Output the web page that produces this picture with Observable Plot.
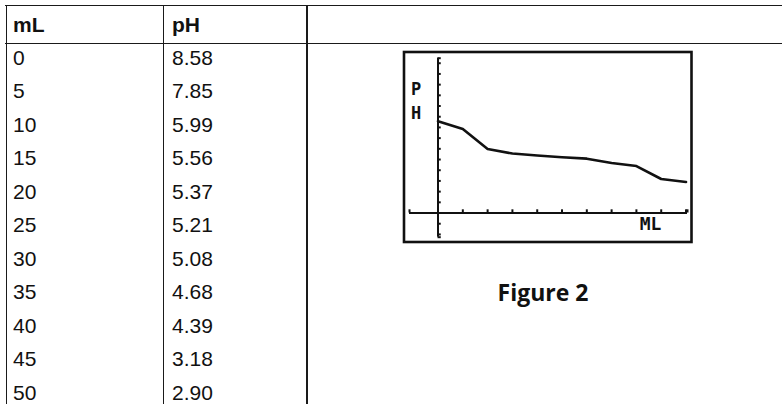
<!DOCTYPE html>
<html><head><meta charset="utf-8">
<script src="https://cdn.jsdelivr.net/npm/d3@7"></script>
<script src="https://cdn.jsdelivr.net/npm/@observablehq/plot@0.6"></script>
<style>
html,body{margin:0;padding:0;background:#fff;}
#page{position:relative;width:782px;height:404px;overflow:hidden;font-family:"Liberation Sans",Arial,sans-serif;color:#111;}
.hl{position:absolute;height:1.6px;background:#1a1a1a;}
.vl{position:absolute;width:1.6px;background:#1a1a1a;}
.cell{position:absolute;font-size:21px;line-height:21px;white-space:nowrap;}
.hd{font-weight:bold;}
#cap{position:absolute;left:543px;top:281px;transform:translateX(-50%);font-family:"Open Sans",sans-serif;font-weight:700;font-size:23px;line-height:23px;white-space:nowrap;}
#chart{position:absolute;left:400px;top:47px;}
</style></head><body><div id="page"></div>
<script>
// ---- data ----
const headers = ["mL", "pH"];
const mL = [0, 5, 10, 15, 20, 25, 30, 35, 40, 45, 50];
const pH = [8.58, 7.85, 5.99, 5.56, 5.37, 5.21, 5.08, 4.68, 4.39, 3.18, 2.90];
const caption = "Figure 2";
const xLabel = "ML";
const yLabel = ["P", "H"];
const xTicks = [0, 5, 10, 15, 20, 25, 30, 35, 40, 45, 50];
const yTicks = [-2, -1, 0, 1, 2, 3, 4, 5, 6, 7, 8, 9, 10, 11, 12, 13, 14];
const xWindow = [-5.75, 50.3];
const yWindow = [-2.26, 14.47];

const page = document.getElementById("page");
function add(cls, style, text) {
  const d = document.createElement("div");
  d.className = cls;
  Object.assign(d.style, style);
  if (text != null) d.textContent = text;
  page.appendChild(d);
  return d;
}
// table lines
add("hl", {left: "5px", top: "4.5px", width: "777px"});
add("hl", {left: "5px", top: "42.5px", width: "777px"});
add("vl", {left: "5.5px", top: "4.5px", height: "400px"});
add("vl", {left: "162.5px", top: "4.5px", height: "400px"});
add("vl", {left: "306px", top: "4.5px", height: "400px"});
// table text
const colX = [13, 172];
headers.forEach((h, j) => add("cell hd", {left: colX[j] + "px", top: "13.7px"}, h));
mL.forEach((v, i) => {
  const top = (46.7 + 33.5 * i) + "px";
  add("cell", {left: colX[0] + "px", top}, String(v));
  add("cell", {left: colX[1] + "px", top}, pH[i].toFixed(2));
});
add("", {}, caption).id = "cap";

// calculator plot
const data = mL.map((x, i) => ({x, y: pH[i]}));
const calcFont = "'DejaVu Sans Mono', monospace";
const plot = Plot.plot({
  width: 296, height: 200,
  marginLeft: 9, marginRight: 9, marginTop: 10.7, marginBottom: 10.3,
  x: {domain: xWindow, axis: null},
  y: {domain: yWindow, axis: null},
  style: {background: "transparent", overflow: "visible"},
  marks: [
    Plot.frame({stroke: "#111", strokeWidth: 2.6, insetLeft: -5.5, insetRight: -4, insetTop: -6.2, insetBottom: -4.8}),
    Plot.ruleY([0], {stroke: "#111", strokeWidth: 2}),
    Plot.ruleX([0], {stroke: "#111", strokeWidth: 2}),
    Plot.ruleY(yTicks.concat(yWindow), {x1: 0, x2: 0.65, stroke: "#111", strokeWidth: 2}),
    Plot.ruleX(xTicks.concat(xWindow), {y1: 0, y2: 0.3, stroke: "#111", strokeWidth: 2}),
    Plot.line(data, {x: "x", y: "y", stroke: "#111", strokeWidth: 2.6}),
    Plot.text([yLabel.join("\n")], {frameAnchor: "top-left", dx: 6.5, dy: 40.8, lineAnchor: "middle", lineHeight: 1.45, textAnchor: "middle", fontFamily: calcFont, fontWeight: "bold", fontSize: 17, fill: "#111"}),
    Plot.text([xLabel], {frameAnchor: "bottom-right", dx: -37, dy: -12.7, lineAnchor: "middle", textAnchor: "middle", fontFamily: calcFont, fontWeight: "bold", fontSize: 18, fill: "#111"})
  ]
});
const holder = document.createElement("div");
holder.id = "chart";
holder.appendChild(plot);
page.appendChild(holder);
</script>
</body></html>
